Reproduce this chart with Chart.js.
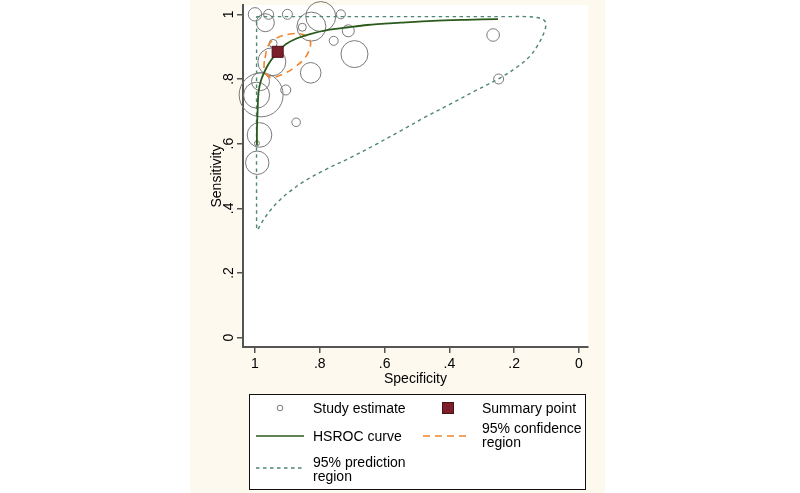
<!DOCTYPE html>
<html>
<head>
<meta charset="utf-8">
<script src="https://cdn.jsdelivr.net/npm/chart.js@4.4.1/dist/chart.umd.min.js"></script>
<style>
  html, body { margin: 0; padding: 0; background: #fff; }
  #wrap { position: relative; width: 800px; height: 493px; }
</style>
</head>
<body>
<div id="wrap"><canvas id="hsroc" width="800" height="493"></canvas></div>
<script>
  // study estimates: specificity, sensitivity and study weight (circle size)
  const studySpec = [1.000, 0.958, 0.968, 0.900, 0.797, 0.826, 0.854, 0.735, 0.757, 0.712, 0.693, 0.828,
                     0.905, 0.873, 0.265, 0.248, 0.948, 0.944, 0.981, 0.983, 0.995, 0.986, 0.994, 0.993];
  const studySens = [1.000, 1.000, 0.974, 1.000, 0.993, 0.962, 0.960, 1.000, 0.918, 0.949, 0.877, 0.819,
                     0.766, 0.666, 0.936, 0.800, 0.853, 0.910, 0.751, 0.792, 0.750, 0.627, 0.601, 0.541];
  const studySize = [6.7, 5, 9, 5, 15, 14.5, 4, 4.5, 4.5, 6, 13.5, 10.3,
                     5, 4.3, 6.3, 5, 14, 4, 22, 9, 13, 12.3, 2.5, 11.7];

  // summary point
  const summarySpec = [0.930];
  const summarySens = [0.884];

  // HSROC curve
  const hsrocSpec = [0.994, 0.994, 0.992, 0.989, 0.981, 0.965, 0.950, 0.929, 0.904, 0.870, 0.830, 0.778,
                     0.712, 0.654, 0.551, 0.451, 0.350, 0.250];
  const hsrocSens = [0.596, 0.640, 0.700, 0.760, 0.797, 0.834, 0.859, 0.884, 0.908, 0.926, 0.939, 0.951,
                     0.960, 0.967, 0.974, 0.980, 0.983, 0.985];

  // 95% confidence region (closed)
  const confSpec = [0.969, 0.960, 0.938, 0.892, 0.855, 0.833, 0.829, 0.846, 0.877, 0.914, 0.951, 0.969, 0.972, 0.969];
  const confSens = [0.865, 0.902, 0.924, 0.939, 0.938, 0.924, 0.902, 0.865, 0.837, 0.815, 0.805, 0.822, 0.846, 0.865];

  // 95% prediction region (closed)
  const predSpec = [0.995, 0.980, 0.600, 0.200, 0.167, 0.130, 0.108, 0.102, 0.111, 0.127, 0.151, 0.191, 0.244,
                    0.321, 0.398, 0.475, 0.552, 0.630, 0.707, 0.784, 0.846, 0.886, 0.923, 0.954, 0.978, 0.993,
                    0.995, 0.995, 0.995];
  const predSens = [0.993, 0.993, 0.993, 0.993, 0.993, 0.990, 0.982, 0.967, 0.936, 0.905, 0.871, 0.837, 0.803,
                    0.763, 0.722, 0.682, 0.639, 0.596, 0.556, 0.519, 0.485, 0.457, 0.426, 0.392, 0.358, 0.333,
                    0.345, 0.980, 0.993];

  const tickValues = [0, 0.2, 0.4, 0.6, 0.8, 1];
  const legendLabels = ['Study estimate', 'Summary point', 'HSROC curve', ['95% confidence', 'region'], ['95% prediction', 'region']];

  const FONT = '"Liberation Sans", Arial, sans-serif';
  const fmt = v => (v === 0 ? '0' : v === 1 ? '1' : String(+v.toFixed(1)).replace(/^0/, ''));
  const pts = (xs, ys) => xs.map((x, i) => ({ x: x, y: ys[i] }));

  const greenCol = '#2a5a1c';
  const orangeCol = '#f0852d';
  const tealCol = '#4e8677';
  const circleCol = '#7a7a7a';

  const decor = {
    id: 'decor',
    beforeDraw(chart) {
      const c = chart.ctx, a = chart.chartArea;
      c.save();
      c.fillStyle = '#ffffff';
      c.fillRect(0, 0, chart.width, chart.height);
      c.fillStyle = '#fdf9ef';
      c.fillRect(190, 0, 415, chart.height);
      c.fillStyle = '#ffffff';
      c.fillRect(a.left, a.top, a.right - a.left, a.bottom - a.top);
      c.restore();
    },
    afterDraw(chart) {
      const c = chart.ctx, a = chart.chartArea;
      const ys = chart.scales.y;
      c.save();
      c.fillStyle = '#000';
      c.font = '14px ' + FONT;
      c.textAlign = 'center';
      c.textBaseline = 'middle';
      // y tick labels, rotated
      tickValues.forEach(v => {
        c.save();
        c.translate(229, ys.getPixelForValue(v));
        c.rotate(-Math.PI / 2);
        c.fillText(fmt(v), 0, 0);
        c.restore();
      });
      // axis titles
      c.save();
      c.translate(217, (a.top + a.bottom) / 2);
      c.rotate(-Math.PI / 2);
      c.fillText('Sensitivity', 0, 0);
      c.restore();
      c.fillText('Specificity', (a.left + a.right) / 2, 379);

      // legend
      c.fillStyle = '#fff';
      c.fillRect(249, 394, 336, 95);
      c.strokeStyle = '#111';
      c.lineWidth = 1;
      c.strokeRect(249.5, 394.5, 336, 95);

      c.textAlign = 'left';
      c.fillStyle = '#000';
      c.fillText(legendLabels[0], 313, 409);
      c.fillText(legendLabels[1], 482, 409);
      c.fillText(legendLabels[2], 313, 437);
      c.fillText(legendLabels[3][0], 482, 429);
      c.fillText(legendLabels[3][1], 482, 443);
      c.fillText(legendLabels[4][0], 313, 463);
      c.fillText(legendLabels[4][1], 313, 477);

      c.strokeStyle = circleCol;
      c.beginPath();
      c.arc(280, 408, 2.8, 0, Math.PI * 2);
      c.stroke();

      c.fillStyle = '#7b1f2a';
      c.fillRect(442.5, 402.5, 11, 11);
      c.strokeStyle = '#4a1018';
      c.strokeRect(442.5, 402.5, 11, 11);

      c.strokeStyle = greenCol;
      c.lineWidth = 1.6;
      c.beginPath(); c.moveTo(256, 436); c.lineTo(304, 436); c.stroke();

      c.strokeStyle = orangeCol;
      c.setLineDash([7, 5]);
      c.beginPath(); c.moveTo(423, 436); c.lineTo(470, 436); c.stroke();

      c.strokeStyle = tealCol;
      c.lineWidth = 1.4;
      c.setLineDash([3.5, 3.5]);
      c.beginPath(); c.moveTo(256, 468); c.lineTo(304, 468); c.stroke();
      c.restore();
    }
  };

  const axisBase = {
    type: 'linear',
    grid: { drawOnChartArea: false, drawTicks: true, tickLength: 6, color: '#555', lineWidth: 1.5 },
    border: { display: true, color: '#555', width: 2 },
    afterBuildTicks(scale) { scale.ticks = tickValues.map(v => ({ value: v })); }
  };

  new Chart(document.getElementById('hsroc'), {
    type: 'scatter',
    data: {
      datasets: [
        {
          type: 'bubble',
          label: legendLabels[0],
          data: studySpec.map((x, i) => ({ x: x, y: studySens[i], r: studySize[i] })),
          backgroundColor: 'rgba(0,0,0,0)',
          borderColor: circleCol,
          borderWidth: 1,
          clip: false,
          order: 5
        },
        {
          label: 'prediction',
          data: pts(predSpec, predSens),
          showLine: true,
          pointRadius: 0,
          borderColor: tealCol,
          borderWidth: 1.4,
          borderDash: [3.5, 3.5],
          tension: 0.35,
          order: 4
        },
        {
          label: 'confidence',
          data: pts(confSpec, confSens),
          showLine: true,
          pointRadius: 0,
          borderColor: orangeCol,
          borderWidth: 1.6,
          borderDash: [7, 5],
          tension: 0.4,
          order: 3
        },
        {
          label: legendLabels[2],
          data: pts(hsrocSpec, hsrocSens),
          showLine: true,
          pointRadius: 0,
          borderColor: greenCol,
          borderWidth: 1.8,
          tension: 0.3,
          order: 2
        },
        {
          label: legendLabels[1],
          data: pts(summarySpec, summarySens),
          pointStyle: 'rect',
          pointRadius: 7.8,
          backgroundColor: '#7b1f2a',
          borderColor: '#4a1018',
          borderWidth: 1,
          order: 1
        }
      ]
    },
    options: {
      responsive: false,
      animation: false,
      devicePixelRatio: 1,
      layout: { autoPadding: false, padding: { left: 193, right: 212, top: 5, bottom: 86 } },
      plugins: { legend: { display: false }, tooltip: { enabled: false } },
      scales: {
        x: Object.assign({}, axisBase, {
          reverse: true,
          min: -0.0278,
          max: 1.037,
          ticks: { color: '#000', font: { size: 14, family: FONT }, padding: 3, maxRotation: 0,
                   callback: v => fmt(v) },
          afterFit(scale) { scale.height = 60; }
        }),
        y: Object.assign({}, axisBase, {
          min: -0.0288,
          max: 1.0288,
          ticks: { display: false },
          afterFit(scale) { scale.width = 50; }
        })
      }
    },
    plugins: [decor]
  });
</script>
</body>
</html>
